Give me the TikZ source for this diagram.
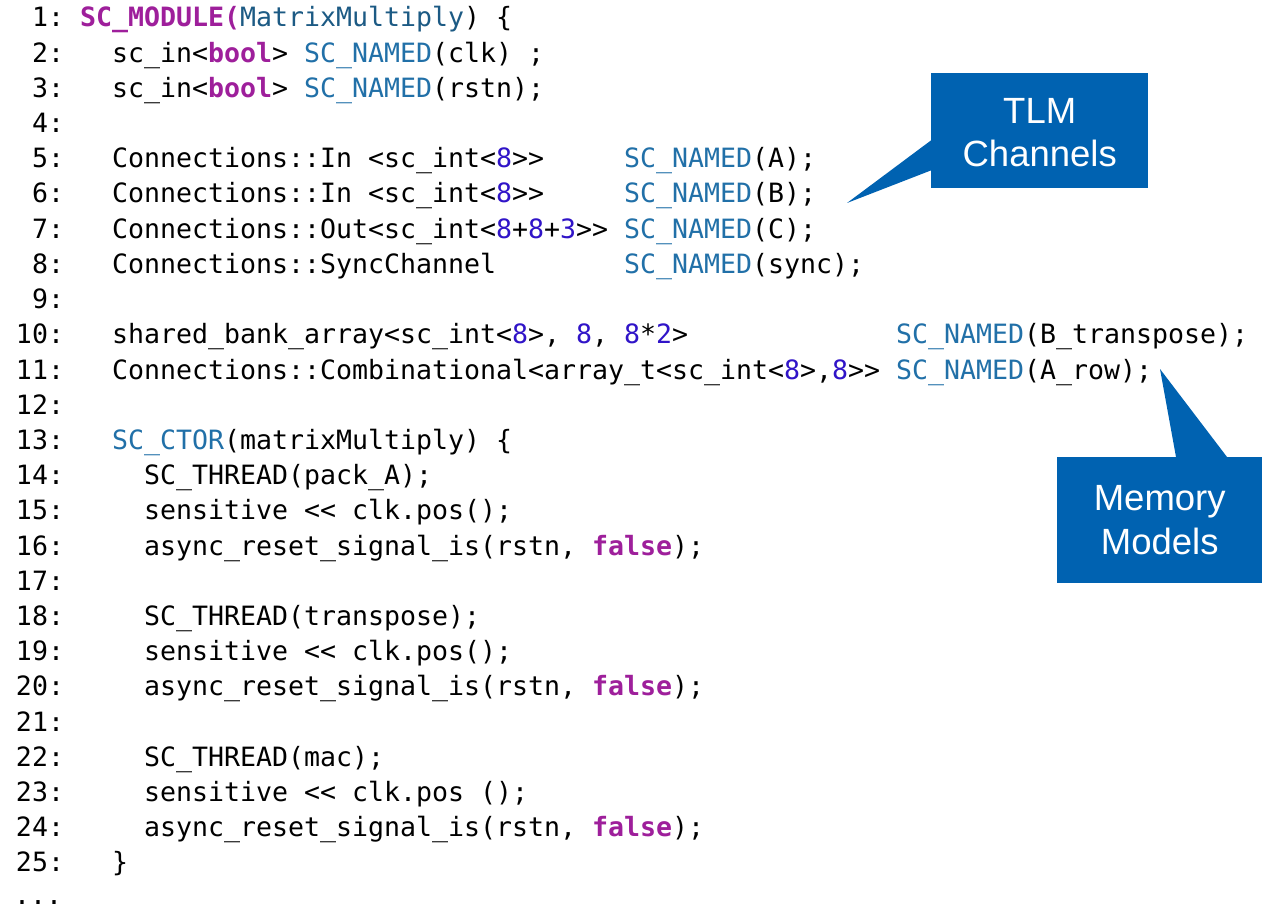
\documentclass[tikz,border=0pt]{standalone}
\usepackage{fontspec}
\setmonofont{DejaVu Sans Mono}
\newfontfamily\calloutfont{Liberation Sans}
\definecolor{kwpurple}{HTML}{9E1F9B}
\definecolor{clsteal}{HTML}{1C5A84}
\definecolor{scblue}{HTML}{2170A8}
\definecolor{numblue}{HTML}{3014C8}
\definecolor{calloutblue}{HTML}{0062B1}
\newcommand{\kw}[1]{\textcolor{kwpurple}{\bfseries #1}}
\newcommand{\cls}[1]{\textcolor{clsteal}{#1}}
\newcommand{\scn}[1]{\textcolor{scblue}{#1}}
\newcommand{\num}[1]{\textcolor{numblue}{#1}}
\begin{document}
\begin{tikzpicture}[x=1pt,y=-1pt,
  codeline/.style={anchor=base west,inner sep=0pt,outer sep=0pt,
    font=\ttfamily\fontsize{26.58pt}{35.2pt}\selectfont\frenchspacing},
  calloutbox/.style={fill=calloutblue,draw=none,inner sep=0pt,anchor=north west},
  callouttext/.style={text=white,align=center,inner sep=0pt,
    font=\calloutfont\fontsize{36.5pt}{43.5pt}\selectfont}]
\useasboundingbox (0,0) rectangle (1268,909);
\fill[white] (0,0) rectangle (1268,909);

\node[codeline] (l1)  at (16,27.0)  {~1:~\kw{SC\_MODULE(}\cls{MatrixMultiply})~\{};
\node[codeline] (l2)  at (16,62.2)  {~2:~~~sc\_in<\kw{bool}>~\scn{SC\_NAMED}(clk)~;};
\node[codeline] (l3)  at (16,97.4)  {~3:~~~sc\_in<\kw{bool}>~\scn{SC\_NAMED}(rstn);};
\node[codeline] (l4)  at (16,132.6) {~4:};
\node[codeline] (l5)  at (16,167.8) {~5:~~~Connections::In~<sc\_int<\num{8}>>~~~~~\scn{SC\_NAMED}(A);};
\node[codeline] (l6)  at (16,203.0) {~6:~~~Connections::In~<sc\_int<\num{8}>>~~~~~\scn{SC\_NAMED}(B);};
\node[codeline] (l7)  at (16,238.2) {~7:~~~Connections::Out<sc\_int<\num{8}+\num{8}+\num{3}>>~\scn{SC\_NAMED}(C);};
\node[codeline] (l8)  at (16,273.4) {~8:~~~Connections::SyncChannel~~~~~~~~\scn{SC\_NAMED}(sync);};
\node[codeline] (l9)  at (16,308.6) {~9:};
\node[codeline] (l10) at (16,343.8) {10:~~~shared\_bank\_array<sc\_int<\num{8}>,~\num{8},~\num{8}*\num{2}>~~~~~~~~~~~~~\scn{SC\_NAMED}(B\_transpose);};
\node[codeline] (l11) at (16,379.0) {11:~~~Connections::Combinational<array\_t<sc\_int<\num{8}>,\num{8}>>~\scn{SC\_NAMED}(A\_row);};
\node[codeline] (l12) at (16,414.2) {12:};
\node[codeline] (l13) at (16,449.4) {13:~~~\scn{SC\_CTOR}(matrixMultiply)~\{};
\node[codeline] (l14) at (16,484.6) {14:~~~~~SC\_THREAD(pack\_A);};
\node[codeline] (l15) at (16,519.8) {15:~~~~~sensitive~<<~clk.pos();};
\node[codeline] (l16) at (16,555.0) {16:~~~~~async\_reset\_signal\_is(rstn,~\kw{false});};
\node[codeline] (l17) at (16,590.2) {17:};
\node[codeline] (l18) at (16,625.4) {18:~~~~~SC\_THREAD(transpose);};
\node[codeline] (l19) at (16,660.6) {19:~~~~~sensitive~<<~clk.pos();};
\node[codeline] (l20) at (16,695.8) {20:~~~~~async\_reset\_signal\_is(rstn,~\kw{false});};
\node[codeline] (l21) at (16,731.0) {21:};
\node[codeline] (l22) at (16,766.2) {22:~~~~~SC\_THREAD(mac);};
\node[codeline] (l23) at (16,801.4) {23:~~~~~sensitive~<<~clk.pos~();};
\node[codeline] (l24) at (16,836.6) {24:~~~~~async\_reset\_signal\_is(rstn,~\kw{false});};
\node[codeline] (l25) at (16,871.8) {25:~~~\}};
\node[codeline] (l26) at (14,904.0) {...};

% TLM Channels callout
\node[calloutbox,minimum width=217pt,minimum height=115pt] (tlm) at (931,73) {};
\node[callouttext] (tlmtext) at ([yshift=-2pt]tlm.center) {TLM\\Channels};
\coordinate (tlmtip) at (847,203);
\fill[calloutblue] ([yshift=48pt]tlm.south west) -- ([yshift=18pt]tlm.south west) -- (tlmtip) -- cycle;

% Memory Models callout
\node[calloutbox,minimum width=205pt,minimum height=126pt] (mem) at (1057,457) {};
\node[callouttext] (memtext) at (mem.center) {Memory\\Models};
\coordinate (memtip) at (1160,369);
\fill[calloutblue] ([xshift=119pt]mem.north west) -- ([xshift=170pt]mem.north west) -- (memtip) -- cycle;
\end{tikzpicture}
\end{document}
